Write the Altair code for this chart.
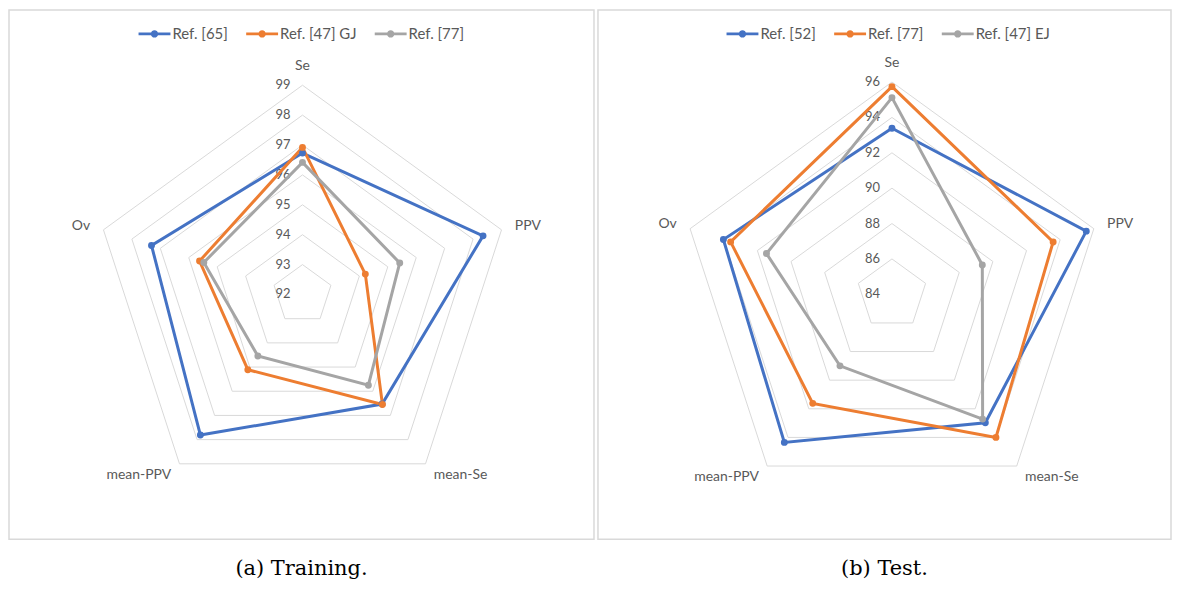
import altair as alt
import pandas as pd

categories = ["Se", "PPV", "mean-Se", "mean-PPV", "Ov"]

# (a) Training
train_series = ["Ref. [65]", "Ref. [47] GJ", "Ref. [77]"]
train_ref65 = [96.73, 98.35, 96.53, 97.81, 97.31]
train_ref47gj = [96.92, 94.21, 96.55, 95.11, 95.62]
train_ref77 = [96.42, 95.42, 95.75, 94.54, 95.47]
train_ticks = [92, 93, 94, 95, 96, 97, 98, 99]

# (b) Test
test_series = ["Ref. [52]", "Ref. [77]", "Ref. [47] EJ"]
test_ref52 = [93.39, 95.55, 92.98, 94.35, 94.02]
test_ref77 = [95.74, 93.58, 94.00, 91.62, 93.59]
test_ref47ej = [95.12, 89.37, 92.72, 89.00, 91.46]
test_ticks = [84, 86, 88, 90, 92, 94, 96]

colors = ["#4472C4", "#ED7D31", "#A5A5A5"]
GRID = "#D9D9D9"
TXT = "#595959"
FONT = "Lato"

LEG_PATH = ("M-1,-0.09H1V0.09H-1Z "
            "M0.23,0A0.23,0.23,0,1,1,-0.23,0A0.23,0.23,0,1,1,0.23,0Z")


def panel(names, values, ticks, cx, cy, k, W, H, legx, caption):
    vmin, vmax = ticks[0], ticks[-1]
    rows = []
    for name, vals in zip(names, values):
        for i, (c, v) in enumerate(zip(categories, vals)):
            rows.append({"series": name, "idx": i, "category": c, "value": v})
    df = pd.DataFrame(rows)
    grid = pd.DataFrame([{"ring": t, "idx": i} for t in ticks[1:] for i in range(5)])
    tdf = pd.DataFrame({"tick": ticks})
    cdf = pd.DataFrame({"category": categories, "idx": list(range(5))})

    X = alt.X("px:Q", scale=alt.Scale(domain=[0, W], nice=False, zero=False), axis=None)
    Y = alt.Y("py:Q", scale=alt.Scale(domain=[0, H], nice=False, zero=False, reverse=True), axis=None)

    def polar(chart, field, extra=0):
        return chart.transform_calculate(
            ang="PI/2 - datum.idx*2*PI/5",
            rr=f"({field} - {vmin})*{k} + {extra}",
        ).transform_calculate(
            px=f"{cx} + datum.rr*cos(datum.ang)",
            py=f"{cy} - datum.rr*sin(datum.ang)",
        )

    cscale = alt.Scale(domain=names, range=colors)
    leg = alt.Legend(
        title=None, orient="none", legendX=legx, legendY=8,
        direction="horizontal", symbolType=LEG_PATH, symbolSize=1024,
        symbolStrokeWidth=0, symbolOpacity=1,
        labelFont=FONT, labelFontSize=15, labelColor=TXT,
        columnPadding=18, labelOffset=2,
    )

    gridl = polar(alt.Chart(grid), "datum.ring").mark_line(
        stroke=GRID, strokeWidth=1, interpolate="linear-closed"
    ).encode(x=X, y=Y, detail="ring:N", order="idx:Q")

    lines = polar(alt.Chart(df), "datum.value").mark_line(
        strokeWidth=3, interpolate="linear-closed"
    ).encode(
        x=X, y=Y, order="idx:Q",
        color=alt.Color("series:N", scale=cscale, legend=leg),
    )

    pts = polar(alt.Chart(df), "datum.value").mark_point(
        filled=True, size=48, opacity=1
    ).encode(
        x=X, y=Y,
        color=alt.Color("series:N", scale=cscale, legend=leg),
    )

    tlab = alt.Chart(tdf).transform_calculate(
        px=f"{cx - 12}",
        py=f"{cy} - (datum.tick - {vmin})*{k}",
    ).mark_text(align="right", baseline="middle", font=FONT, fontSize=13, color=TXT).encode(
        x=X, y=Y, text="tick:N"
    )

    off = 14
    clab_c = polar(alt.Chart(cdf), f"{vmax}", 19).transform_filter("datum.idx == 0").mark_text(
        align="center", baseline="middle", font=FONT, fontSize=14, color=TXT
    ).encode(x=X, y=Y, text="category:N")
    clab_l = polar(alt.Chart(cdf), f"{vmax}", off).transform_filter("datum.idx == 1 || datum.idx == 2").mark_text(
        align="left", baseline="middle", font=FONT, fontSize=14, color=TXT
    ).encode(x=X, y=Y, text="category:N")
    clab_r = polar(alt.Chart(cdf), f"{vmax}", off).transform_filter("datum.idx == 3 || datum.idx == 4").mark_text(
        align="right", baseline="middle", font=FONT, fontSize=14, color=TXT
    ).encode(x=X, y=Y, text="category:N")

    return alt.layer(gridl, tlab, lines, pts, clab_c, clab_l, clab_r).properties(
        width=W, height=H,
        title=alt.TitleParams(caption, orient="bottom", anchor="middle", offset=19,
                              font="DejaVu Serif", fontSize=21, fontWeight="normal",
                              color="black", baseline="top"),
    )


pa = panel(train_series, [train_ref65, train_ref47gj, train_ref77], train_ticks,
           294.5, 285.5, 30.0, 587, 531, 130, "(a) Training.")
pb = panel(test_series, [test_ref52, test_ref77, test_ref47ej], test_ticks,
           295, 285.3, 17.75, 575, 531, 129, "(b) Test.")

chart = alt.hconcat(pa, pb, spacing=2).resolve_scale(
    color="independent", x="independent", y="independent"
).resolve_legend(color="independent").configure_view(
    stroke=GRID, strokeWidth=1.5
).properties(padding=0)

chart.save("out.html", embed_options={"renderer": "svg", "actions": False})
